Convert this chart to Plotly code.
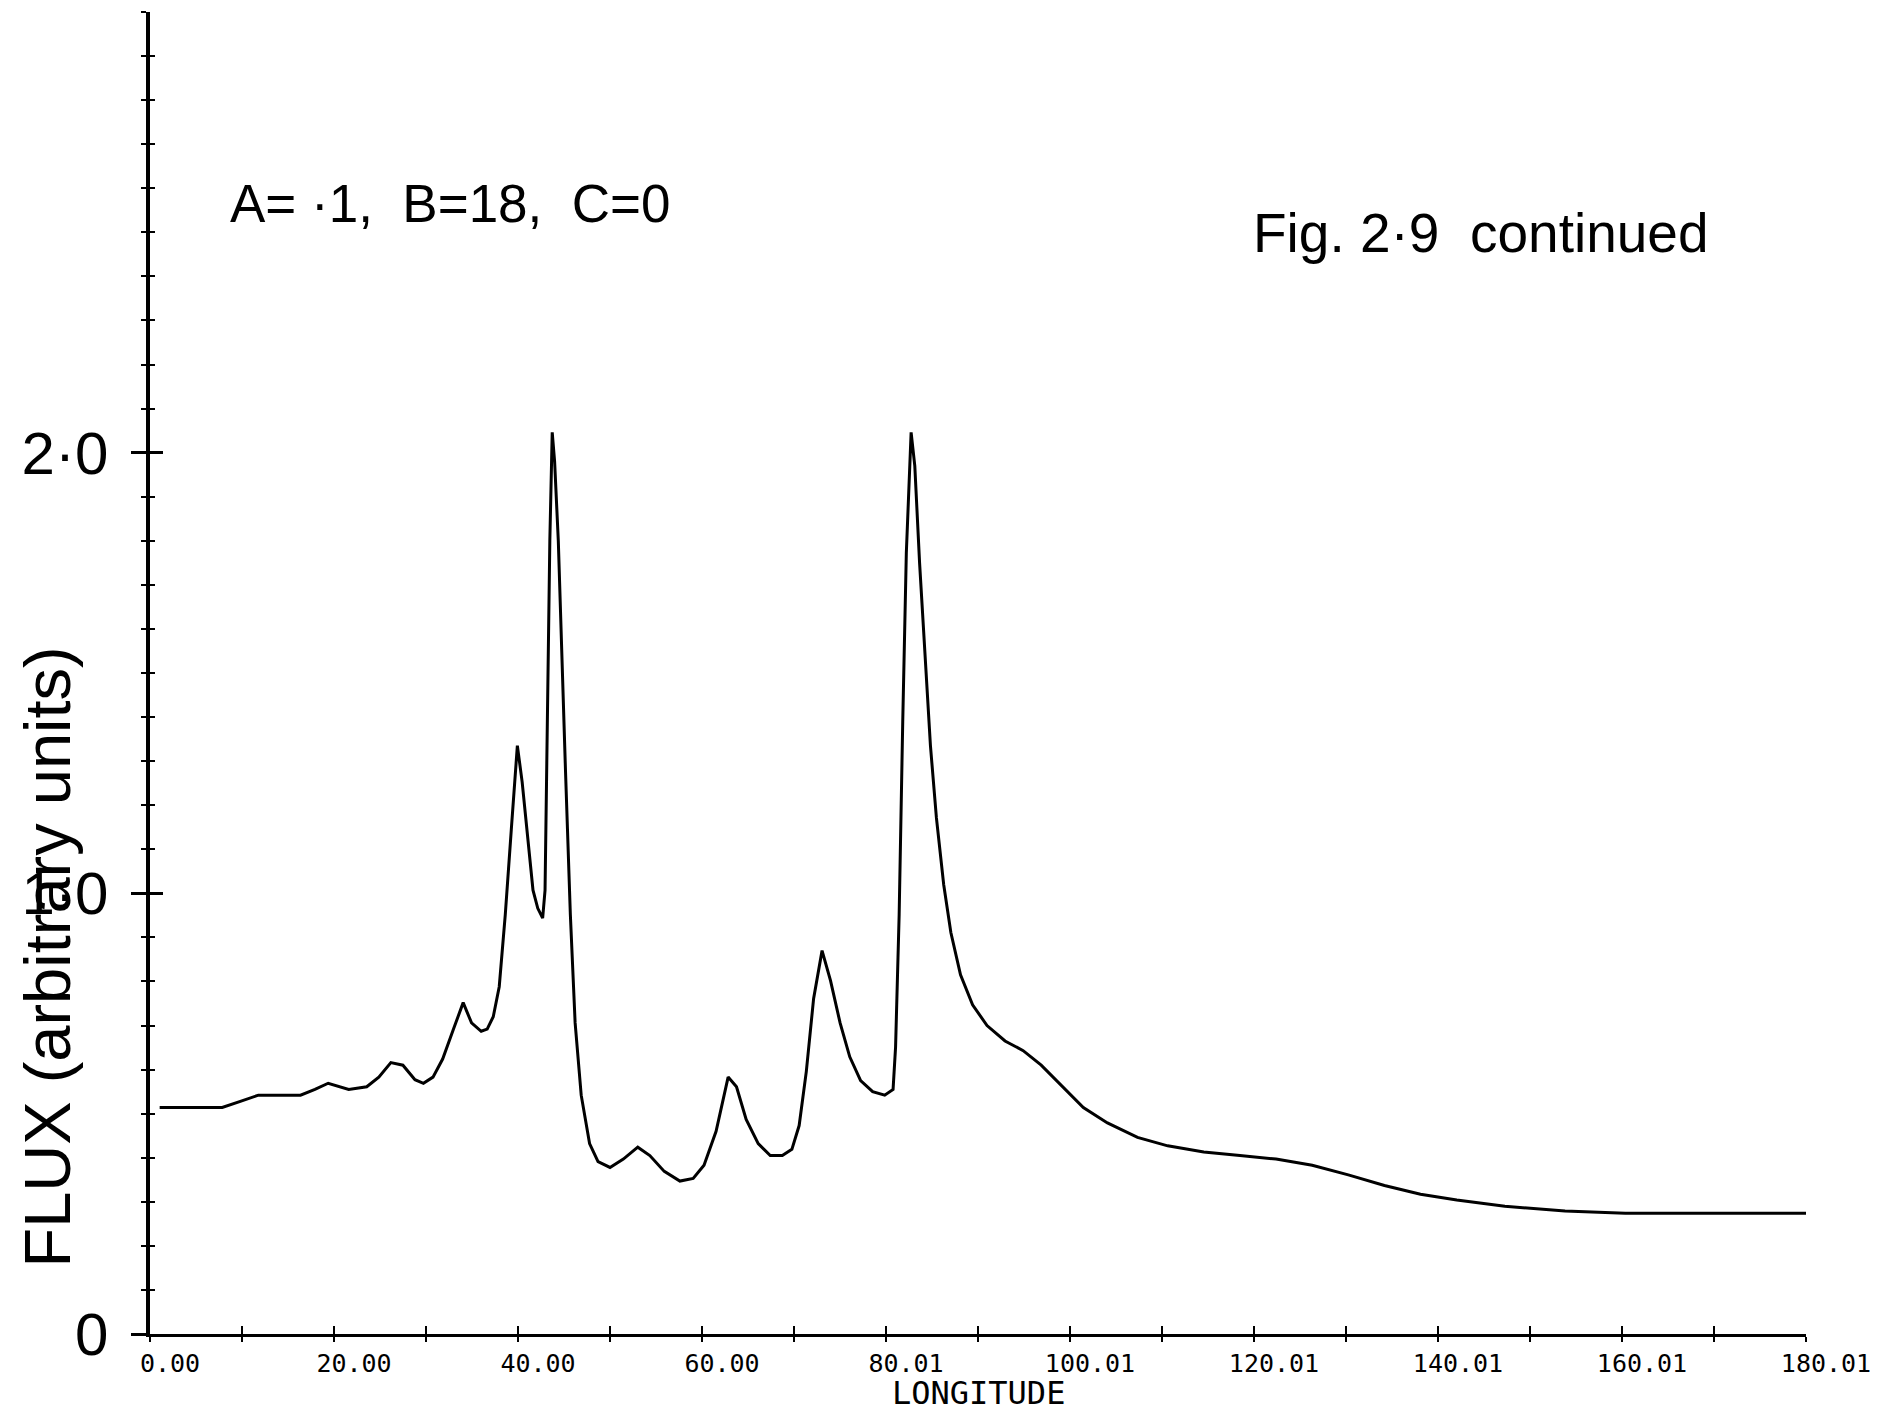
import plotly.graph_objects as go

longitude = [1.05, 7.85, 9.82, 11.78, 16.36, 17.93, 19.37, 21.6, 23.56, 24.87,
             26.18, 27.49, 28.8, 29.72, 30.76, 31.81, 32.99, 34.04, 34.95, 36.0,
             36.65, 37.31, 37.96, 38.62, 39.27, 39.93, 40.45, 40.98, 41.63, 42.15,
             42.68, 42.94, 43.2, 43.46, 43.72, 43.98, 44.38, 44.77, 45.16, 45.69,
             46.21, 46.87, 47.78, 48.7, 50.0, 51.45, 53.02, 54.33, 55.9, 57.6,
             59.04, 60.22, 61.53, 62.84, 63.75, 64.8, 66.11, 67.42, 68.73, 69.77,
             70.56, 71.34, 72.13, 73.05, 73.97, 75.01, 76.06, 77.24, 78.55, 79.86,
             80.77, 81.04, 81.43, 81.82, 82.21, 82.73, 83.13, 83.65, 84.17, 84.83,
             85.48, 86.27, 87.05, 88.1, 89.41, 90.98, 92.94, 94.91, 96.87, 98.84,
             101.45, 104.07, 107.34, 110.62, 114.54, 118.47, 122.4, 126.33, 130.25, 134.18,
             138.1, 142.04, 147.27, 153.81, 160.36, 166.9, 173.45, 180.0]
flux = [0.514, 0.514, 0.528, 0.542, 0.542, 0.555, 0.569, 0.555, 0.561, 0.583,
        0.616, 0.610, 0.577, 0.569, 0.583, 0.624, 0.692, 0.752, 0.706, 0.687,
        0.692, 0.720, 0.788, 0.952, 1.144, 1.335, 1.253, 1.144, 1.007, 0.966,
        0.944, 1.007, 1.39, 1.80, 2.046, 1.98, 1.80, 1.527, 1.28, 0.952,
        0.706, 0.542, 0.432, 0.391, 0.378, 0.397, 0.424, 0.405, 0.369, 0.347,
        0.353, 0.383, 0.460, 0.583, 0.561, 0.487, 0.432, 0.405, 0.405, 0.419,
        0.473, 0.596, 0.761, 0.870, 0.802, 0.706, 0.629, 0.575, 0.550, 0.542,
        0.555, 0.651, 0.952, 1.39, 1.773, 2.046, 1.97, 1.75, 1.554, 1.335,
        1.171, 1.02, 0.911, 0.815, 0.747, 0.700, 0.665, 0.643, 0.610, 0.569,
        0.514, 0.479, 0.446, 0.427, 0.413, 0.405, 0.397, 0.383, 0.361, 0.337,
        0.317, 0.304, 0.290, 0.279, 0.274, 0.274, 0.274, 0.274]

x_tickvals = [0, 20, 40, 60, 80, 100, 120, 140, 160, 180]
x_ticktext = ["0.00", "20.00", "40.00", "60.00", "80.01",
              "100.01", "120.01", "140.01", "160.01", "180.01"]
y_tickvals = [0, 1, 2]
y_ticktext = ["0", "1\u00b70", "2\u00b70"]

X_RANGE = [0, 180]
Y_RANGE = [0, 3.0]

fig = go.Figure()
fig.add_trace(go.Scatter(x=longitude, y=flux, mode="lines",
                         line=dict(color="black", width=3),
                         showlegend=False, hoverinfo="skip"))
# empty trace so that the overlay axes (inner half of the crossing ticks) are drawn
fig.add_trace(go.Scatter(x=[], y=[], xaxis="x2", yaxis="y2",
                         showlegend=False, hoverinfo="skip"))

mono = "DejaVu Sans Mono"
sans = "Liberation Sans, Arial, sans-serif"

fig.update_layout(
    width=1888, height=1415,
    margin=dict(l=150, r=82, t=12, b=81),
    paper_bgcolor="white", plot_bgcolor="white",
    showlegend=False,
    xaxis=dict(range=X_RANGE, showgrid=False, zeroline=False,
               showline=True, linecolor="black", linewidth=3,
               tickmode="array", tickvals=x_tickvals, ticktext=x_ticktext,
               ticks="outside", ticklen=5, tickwidth=2, tickcolor="black",
               minor=dict(dtick=10, tick0=0, ticks="outside", ticklen=5,
                          tickwidth=2, tickcolor="black", showgrid=False),
               tickfont=dict(family=mono, size=25, color="black"),
               ticklabelstandoff=0, ticklabelshift=20),
    xaxis2=dict(range=X_RANGE, overlaying="x", anchor="y", side="bottom",
                showgrid=False, zeroline=False, showline=False,
                tickmode="linear", tick0=0, dtick=10,
                ticks="inside", ticklen=8, tickwidth=2, tickcolor="black",
                showticklabels=False),
    yaxis=dict(range=Y_RANGE, showgrid=False, zeroline=False,
               showline=True, linecolor="black", linewidth=3.5,
               tickmode="array", tickvals=y_tickvals, ticktext=y_ticktext,
               ticks="outside", ticklen=15, tickwidth=3, tickcolor="black",
               minor=dict(dtick=0.1, tick0=0, ticks="outside", ticklen=5,
                          tickwidth=2, tickcolor="black", showgrid=False),
               tickfont=dict(family=sans, size=60, color="black"),
               ticklabelstandoff=11),
    yaxis2=dict(range=Y_RANGE, overlaying="y", anchor="x", side="left",
                showgrid=False, zeroline=False, showline=False,
                tickmode="array", tickvals=[1, 2],
                ticks="inside", ticklen=13, tickwidth=3, tickcolor="black",
                minor=dict(dtick=0.1, tick0=0, ticks="inside", ticklen=5,
                           tickwidth=2, tickcolor="black", showgrid=False),
                showticklabels=False),
)

fig.add_annotation(text="LONGITUDE", xref="paper", yref="paper",
                   x=0.5, y=-0.0446, xanchor="center", yanchor="middle",
                   showarrow=False, font=dict(family=mono, size=32, color="black"))

fig.add_annotation(text="FLUX (arbitrary units)", xref="paper", yref="paper",
                   x=-0.062, y=0.285, xanchor="center", yanchor="middle",
                   textangle=-90, showarrow=False,
                   font=dict(family=sans, size=65, color="black"))

fig.add_annotation(text="A=\u00a0\u00b71,\u00a0\u00a0B=18,\u00a0\u00a0C=0",
                   xref="paper", yref="paper", x=0.047, y=0.8555,
                   xanchor="left", yanchor="middle", showarrow=False,
                   font=dict(family=sans, size=53, color="black"))

fig.add_annotation(text="Fig.\u00a02\u00b79\u00a0\u00a0continued",
                   xref="paper", yref="paper", x=0.665, y=0.833,
                   xanchor="left", yanchor="middle", showarrow=False,
                   font=dict(family=sans, size=55, color="black"))

fig.write_html("out.html")
